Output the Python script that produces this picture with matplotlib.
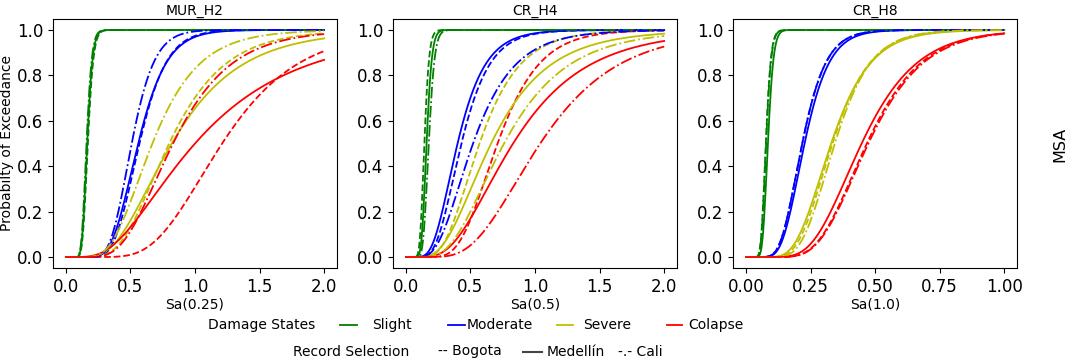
import math
import numpy as np
import matplotlib
matplotlib.use("Agg")
import matplotlib.pyplot as plt
from matplotlib.lines import Line2D

# fragility curves: lognormal median (theta) and dispersion (beta)
# order of damage states: Slight, Moderate, Severe, Colapse
panels = ["MUR_H2", "CR_H4", "CR_H8"]
xlabels = ["Sa(0.25)", "Sa(0.5)", "Sa(1.0)"]
xmax = [2.0, 2.0, 1.0]
states = ["Slight", "Moderate", "Severe", "Colapse"]
state_colors = ["g", "b", "y", "r"]
records = ["Bogota", "Medellín", "Cali"]
record_styles = ["--", "-", "-."]

# MUR_H2
mur_h2_theta = {"Bogota": [0.17, 0.57, 0.80, 1.21],
                "Medellín": [0.165, 0.56, 0.82, 1.00],
                "Cali": [0.16, 0.51, 0.67, 0.83]}
mur_h2_beta = {"Bogota": [0.20, 0.29, 0.42, 0.38],
               "Medellín": [0.20, 0.31, 0.50, 0.62],
               "Cali": [0.20, 0.27, 0.42, 0.42]}
# CR_H4
cr_h4_theta = {"Bogota": [0.143, 0.43, 0.57, 0.71],
               "Medellín": [0.16, 0.40, 0.66, 0.83],
               "Cali": [0.177, 0.52, 0.76, 1.04]}
cr_h4_beta = {"Bogota": [0.20, 0.40, 0.43, 0.36],
              "Medellín": [0.20, 0.42, 0.52, 0.53],
              "Cali": [0.20, 0.48, 0.50, 0.45]}
# CR_H8
cr_h8_theta = {"Bogota": [0.077, 0.218, 0.335, 0.468],
               "Medellín": [0.085, 0.227, 0.33, 0.448],
               "Cali": [0.078, 0.218, 0.344, 0.474]}
cr_h8_beta = {"Bogota": [0.20, 0.33, 0.34, 0.35],
              "Medellín": [0.20, 0.33, 0.36, 0.37],
              "Cali": [0.20, 0.33, 0.32, 0.35]}

thetas = [mur_h2_theta, cr_h4_theta, cr_h8_theta]
betas = [mur_h2_beta, cr_h4_beta, cr_h8_beta]


def lognorm_cdf(x, theta, beta):
    out = np.zeros_like(x)
    pos = x > 0
    z = np.log(x[pos] / theta) / (beta * math.sqrt(2))
    out[pos] = 0.5 * (1 + np.vectorize(math.erf)(z))
    return out


fig = plt.figure(figsize=(10.72, 3.61), dpi=100)
lefts = [0.0494, 0.3666, 0.6838]
for k in range(3):
    ax = fig.add_axes([lefts[k], 0.2565, 0.265, 0.692])
    x = np.linspace(0, xmax[k], 300)
    for r, rec in enumerate(records):
        for s in range(4):
            y = lognorm_cdf(x, thetas[k][rec][s], betas[k][rec][s])
            ax.plot(x, y, color=state_colors[s], linestyle=record_styles[r],
                    linewidth=1.3)
    ax.set_title(panels[k], fontsize=10, pad=3)
    ax.set_xlabel(xlabels[k], fontsize=10, labelpad=1)
    ax.tick_params(labelsize=12)
    if xmax[k] == 1.0:
        ax.set_xticks([0, 0.25, 0.5, 0.75, 1.0])
    else:
        ax.set_xticks([0, 0.5, 1.0, 1.5, 2.0])
    ax.set_yticks([0, 0.2, 0.4, 0.6, 0.8, 1.0])
    if k == 0:
        ax.set_ylabel("Probabilty of Exceedance", fontsize=10, labelpad=2)

fig.text(0.989, 0.60, "MSA", rotation=90, fontsize=11.5, ha="center", va="center")

# legend rows drawn by hand
fs = 10
y1 = 1 - 325 / 361
y2 = 1 - 351.5 / 361
fig.text(208 / 1072, y1, "Damage States", fontsize=fs, va="center")
leg_lines = [(340, 357, "g"), (448, 465, "b"), (557, 573, "y"), (667, 682, "r")]
leg_text = [372, 467, 583, 688]
for (a, b, c), tx, name in zip(leg_lines, leg_text, states):
    fig.add_artist(Line2D([a / 1072, b / 1072], [y1, y1], color=c, linewidth=1.3))
    fig.text(tx / 1072, y1, name, fontsize=fs, va="center")

fig.text(293 / 1072, y2, "Record Selection", fontsize=fs, va="center")
fig.text(438 / 1072, y2, "-- Bogota", fontsize=fs, va="center")
fig.add_artist(Line2D([523 / 1072, 542 / 1072], [y2, y2], color="#444444", linewidth=1.5))
fig.text(547 / 1072, y2, "Medellín", fontsize=fs, va="center")
fig.text(618 / 1072, y2, "-.- Cali", fontsize=fs, va="center")

fig.savefig("out.png", dpi=100)
